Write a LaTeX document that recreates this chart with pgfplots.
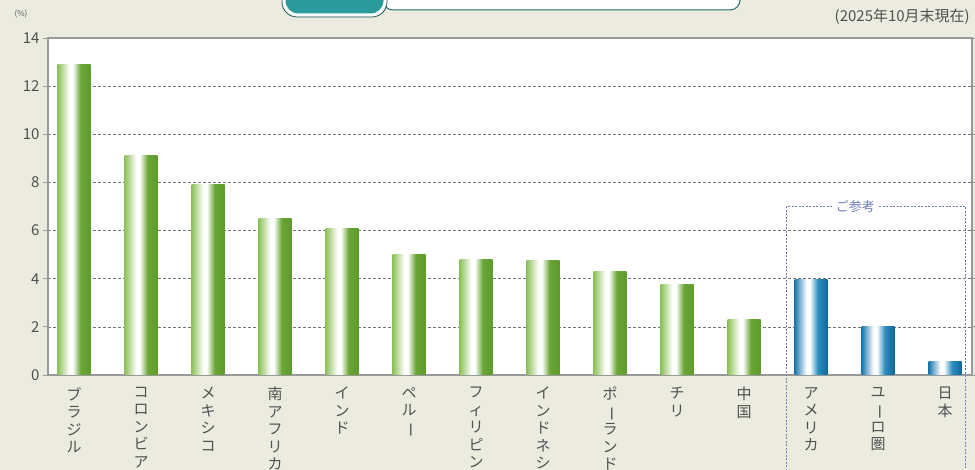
\documentclass[border=0pt]{standalone}
\usepackage{fontspec}
\setmainfont{Noto Sans CJK JP}
\usepackage{graphicx}
\usepackage{pgfplots}
\pgfplotsset{compat=1.18}
\definecolor{bg}{HTML}{ECEBE0}
\definecolor{txt}{HTML}{505050}
\definecolor{gA}{HTML}{8DC159}
\definecolor{gB}{HTML}{6AA536}
\definecolor{gC}{HTML}{5E9A2C}
\definecolor{bA}{HTML}{1B79AE}
\definecolor{bB}{HTML}{2D8DBF}
\definecolor{bC}{HTML}{0E6898}
\definecolor{teal}{HTML}{2A9A9C}
\definecolor{boxblue}{HTML}{6E7DB8}
\pgfdeclarehorizontalshading{gshade}{100bp}{color(0bp)=(gA); color(25bp)=(gA); color(43bp)=(white); color(48bp)=(white); color(60bp)=(gB); color(75bp)=(gC); color(100bp)=(gC)}
\pgfdeclarehorizontalshading{bshade}{100bp}{color(0bp)=(bA); color(25bp)=(bA); color(43bp)=(white); color(48bp)=(white); color(60bp)=(bB); color(75bp)=(bC); color(100bp)=(bC)}
\newcommand\vb{\rotatebox[origin=c]{-90}{ー}}
\pgfplotsset{
  gbar/.style={draw=none, bar shift=0pt, shading=gshade},
  bbar/.style={draw=none, bar shift=0pt, shading=bshade},
}
\begin{document}
\begin{tikzpicture}
\useasboundingbox (-48pt,-95pt) rectangle (927pt,375pt);
\fill[bg] (-48pt,-95pt) rectangle (927pt,375pt);
% header badges (cut at top)
\draw[teal!70!black, line width=1pt, fill=white, rounded corners=10pt] (335pt,365pt) rectangle (692pt,400pt);
\draw[white, line width=3pt, fill=teal, rounded corners=14pt] (236pt,360pt) rectangle (337pt,400pt);
\draw[teal!60!black, line width=0.8pt, rounded corners=15pt] (234pt,358pt) rectangle (339pt,400pt);
\node[font=\fontsize{8}{9}\selectfont, text=txt] at (-27pt,361pt) {(\%)};
\node[font=\fontsize{15}{17}\selectfont, text=txt, anchor=east, inner sep=0pt] at (922pt,358pt) {(2025年10月末現在)};
\begin{axis}[
  at={(0pt,0pt)}, anchor=south west,
  scale only axis, width=924pt, height=337pt,
  xmin=-0.388, xmax=13.40, ymin=0, ymax=14,
  ytick={0,2,...,14},
  axis line style={draw=gray!80, line width=1.2pt},
  axis background/.style={fill=white},
  ymajorgrids,
  grid style={gray!90!black, line width=0.7pt, dash pattern=on 3pt off 2pt},
  major tick length=5pt,
  ytick style={gray!80, line width=0.8pt},
  xtick={0,...,13}, xtick style={draw=none},
  xticklabels={{ブ\\ラ\\ジ\\ル},{コ\\ロ\\ン\\ビ\\ア},{メ\\キ\\シ\\コ},{南\\ア\\フ\\リ\\カ},{イ\\ン\\ド},{ペ\\ル\\\vb},{フ\\ィ\\リ\\ピ\\ン},{イ\\ン\\ド\\ネ\\シ\\ア},{ポ\\\vb\\ラ\\ン\\ド},{チ\\リ},{中\\国},{ア\\メ\\リ\\カ},{ユ\\\vb\\ロ\\圏},{日\\本}},
  xticklabel style={anchor=north, align=center, text=txt, font=\fontsize{15}{17.5}\selectfont, inner sep=0pt, yshift=-7pt},
  yticklabel style={text=txt, font=\fontsize{15}{17}\selectfont},
  /pgf/number format/assume math mode=true,
  tick align=outside,
  clip=false,
  ybar, bar width=33pt,
]
\addplot[gbar] coordinates {(0,12.9)};
\addplot[gbar] coordinates {(1,9.1)};
\addplot[gbar] coordinates {(2,7.9)};
\addplot[gbar] coordinates {(3,6.5)};
\addplot[gbar] coordinates {(4,6.1)};
\addplot[gbar] coordinates {(5,5.0)};
\addplot[gbar] coordinates {(6,4.8)};
\addplot[gbar] coordinates {(7,4.75)};
\addplot[gbar] coordinates {(8,4.3)};
\addplot[gbar] coordinates {(9,3.75)};
\addplot[gbar] coordinates {(10,2.3)};
\addplot[bbar] coordinates {(11,3.95)};
\addplot[bbar] coordinates {(12,2.0)};
\addplot[bbar] coordinates {(13,0.58)};
\draw[boxblue, line width=1pt, dash pattern=on 2pt off 1.5pt] (axis cs:10.63,-5) -- (axis cs:10.63,7.0) -- (axis cs:13.31,7.0) -- (axis cs:13.31,-5);
\node[fill=white, text=boxblue, font=\fontsize{13}{15}\selectfont, inner sep=3pt] at (axis cs:11.66,7.0) {ご参考};
\end{axis}
\end{tikzpicture}
\end{document}
